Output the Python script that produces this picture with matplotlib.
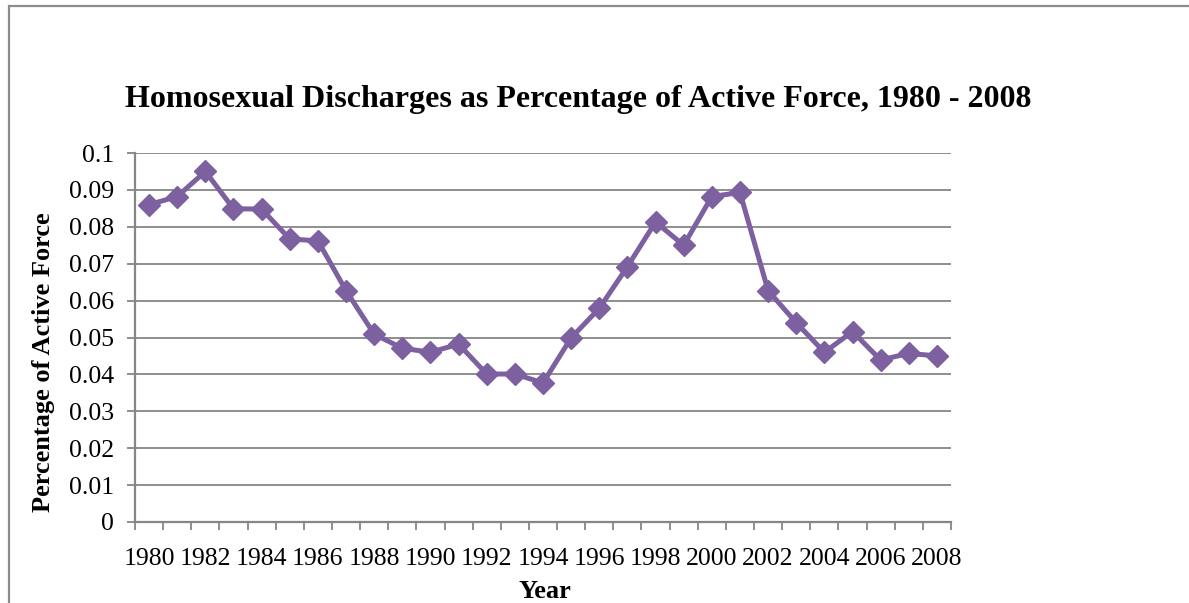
import matplotlib
matplotlib.use("Agg")
import matplotlib.pyplot as plt
from matplotlib.patches import Rectangle

years = list(range(1980, 2009))
values = [0.0860, 0.0882, 0.0950, 0.0849, 0.0848, 0.0767, 0.0762, 0.0627,
          0.0509, 0.0471, 0.0460, 0.0482, 0.0401, 0.0401, 0.0377, 0.0499,
          0.0579, 0.0692, 0.0813, 0.0750, 0.0882, 0.0893, 0.0627, 0.0540,
          0.0460, 0.0516, 0.0439, 0.0457, 0.0450]
yticks = [0, 0.01, 0.02, 0.03, 0.04, 0.05, 0.06, 0.07, 0.08, 0.09, 0.1]
ytick_labels = ["0", "0.01", "0.02", "0.03", "0.04", "0.05", "0.06", "0.07", "0.08", "0.09", "0.1"]
title = "Homosexual Discharges as Percentage of Active Force, 1980 - 2008"
xlabel = "Year"
ylabel = "Percentage of Active Force"

W, H = 1189, 603
plt.rcParams['font.family'] = ['Liberation Serif', 'DejaVu Serif']
fig = plt.figure(figsize=(W / 100, H / 100), dpi=100)
fig.patch.set_facecolor('white')

# outer chart border (only top/left visible)
fig.patches.append(Rectangle((8.5 / W, -0.2), 1.2, 1 - 5.5 / H + 0.2,
                             transform=fig.transFigure, fill=False,
                             edgecolor='#8c8c8c', linewidth=1.6))

left, right, top, bottom = 135, 951, 153, 522
ax = fig.add_axes([left / W, 1 - bottom / H, (right - left) / W, (bottom - top) / H])

grid_c = '#868686'
pos = list(range(len(years)))
ax.plot(pos, values, color='#7D60A0', linewidth=3.6, marker='D', markersize=11,
        markerfacecolor='#7D60A0', markeredgecolor='#7D60A0', zorder=3,
        solid_joinstyle='miter')

ax.set_xlim(-0.5, len(years) - 0.5)
ax.set_ylim(0, 0.1)
ax.set_yticks(yticks)
ax.set_yticklabels(ytick_labels)
ax.yaxis.grid(True, color=grid_c, linewidth=1.3)
ax.set_axisbelow(True)

ax.set_xticks(pos[::2])
ax.set_xticklabels([str(y) for y in years[::2]])
ax.set_xticks([p - 0.5 for p in pos] + [pos[-1] + 0.5], minor=True)
ax.tick_params(axis='x', which='major', length=0, pad=19, labelsize=18.5)
ax.tick_params(axis='x', which='minor', length=6, width=1.3, color=grid_c, direction='out')
ax.tick_params(axis='y', which='major', length=6, width=1.3, color=grid_c, direction='out',
               pad=9, labelsize=18.5)

for s in ['top', 'right']:
    ax.spines[s].set_visible(False)
for s in ['left', 'bottom']:
    ax.spines[s].set_color(grid_c)
    ax.spines[s].set_linewidth(1.6)

fig.text(578 / W, 1 - 99 / H, title, ha='center', va='center', fontsize=23, fontweight='bold')
fig.text(545 / W, 1 - 591 / H, xlabel, ha='center', va='center', fontsize=19, fontweight='bold')
fig.text(44 / W, 1 - 362 / H, ylabel, ha='center', va='center', fontsize=19,
         fontweight='bold', rotation=90)

fig.savefig('out.png', dpi=100)
